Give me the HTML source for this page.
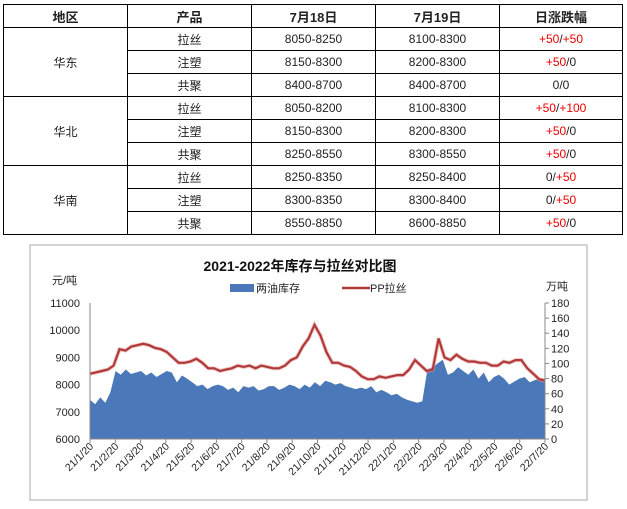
<!DOCTYPE html>
<html><head><meta charset="utf-8">
<style>
body{margin:0;width:627px;height:509px;background:#fff;overflow:hidden;font-family:"Liberation Sans","Noto Sans CJK SC",sans-serif;}
table{position:absolute;left:3px;top:4px;border-collapse:collapse;table-layout:fixed;}
td{border:1px solid #000;text-align:center;font-size:12px;color:#222;height:22px;padding:0;}
tr.h td{font-weight:bold;font-size:13px;height:22px;}
.r{color:#e00;}
</style></head><body>
<table>
<colgroup><col style="width:124px"><col style="width:124px"><col style="width:124px"><col style="width:124px"><col style="width:123px"></colgroup>
<tr class="h"><td>地区</td><td>产品</td><td>7月18日</td><td>7月19日</td><td>日涨跌幅</td></tr>
<tr><td rowspan="3">华东</td><td>拉丝</td><td>8050-8250</td><td>8100-8300</td><td><span class="r">+50</span>/<span class="r">+50</span></td></tr>
<tr><td>注塑</td><td>8150-8300</td><td>8200-8300</td><td><span class="r">+50</span>/0</td></tr>
<tr><td>共聚</td><td>8400-8700</td><td>8400-8700</td><td>0/0</td></tr>
<tr><td rowspan="3">华北</td><td>拉丝</td><td>8050-8200</td><td>8100-8300</td><td><span class="r">+50</span>/<span class="r">+100</span></td></tr>
<tr><td>注塑</td><td>8150-8300</td><td>8200-8300</td><td><span class="r">+50</span>/0</td></tr>
<tr><td>共聚</td><td>8250-8550</td><td>8300-8550</td><td><span class="r">+50</span>/0</td></tr>
<tr><td rowspan="3">华南</td><td>拉丝</td><td>8250-8350</td><td>8250-8400</td><td>0/<span class="r">+50</span></td></tr>
<tr><td>注塑</td><td>8300-8350</td><td>8300-8400</td><td>0/<span class="r">+50</span></td></tr>
<tr><td>共聚</td><td>8550-8850</td><td>8600-8850</td><td><span class="r">+50</span>/0</td></tr>
</table>
<svg id="chart" width="627" height="509" style="position:absolute;left:0;top:0" xmlns="http://www.w3.org/2000/svg">
<rect x="30" y="245" width="557" height="255" fill="#fff" stroke="#aaa"/>
<text x="300" y="271" text-anchor="middle" font-size="14" font-weight="bold" fill="#111">2021-2022年库存与拉丝对比图</text>
<text x="52" y="284" font-size="11" fill="#222">元/吨</text>
<text x="546" y="290" font-size="11" fill="#222">万吨</text>
<rect x="230" y="284" width="24" height="8" fill="#4a78b8"/>
<text x="256" y="292" font-size="11" fill="#222">两油库存</text>
<line x1="342" y1="288" x2="370" y2="288" stroke="#b03a3a" stroke-width="2.5"/>
<text x="370" y="292" font-size="11" fill="#222">PP拉丝</text>
<g id="g"></g>
</svg>
<script>
const tickLabels=["21/1/20","21/2/20","21/3/20","21/4/20","21/5/20","21/6/20","21/7/20","21/8/20","21/9/20","21/10/20","21/11/20","21/12/20","22/1/20","22/2/20","22/3/20","22/4/20","22/5/20","22/6/20","22/7/20"];
const leftTicks=[6000,7000,8000,9000,10000,11000];
const rightTicks=[0,20,40,60,80,100,120,140,160,180];
const priceValues=[8400,8450,8500,8550,8700,9300,9250,9400,9450,9500,9450,9350,9300,9200,9000,8800,8800,8850,8950,8800,8600,8600,8500,8550,8600,8700,8650,8700,8600,8700,8650,8600,8600,8700,8900,9000,9400,9700,10200,9800,9200,8800,8800,8700,8650,8500,8300,8200,8200,8300,8250,8300,8350,8350,8550,8900,8700,8500,8550,9700,9000,8900,9100,8950,8850,8850,8800,8800,8700,8700,8850,8800,8900,8900,8600,8400,8200,8150];
const inventoryValues=[52,46,55,48,62,90,85,92,86,88,90,84,88,82,86,90,88,75,84,80,75,70,72,66,70,72,70,65,68,62,70,68,70,64,66,70,70,65,68,72,70,66,72,68,75,70,77,75,72,74,70,68,66,68,66,70,62,65,62,58,60,55,52,50,48,50,92,95,100,105,85,88,95,90,85,92,80,88,75,82,85,80,72,76,80,82,75,78,80,75];
const X0=90,X1=545,Y0=439,Y1=303;
const svg=document.getElementById('g');const NS='http://www.w3.org/2000/svg';
function el(t,a){const e=document.createElementNS(NS,t);for(const k in a)e.setAttribute(k,a[k]);svg.appendChild(e);return e;}
const months=tickLabels.length-1;
function xOf(i,n){return X0+(X1-X0)*i/(n-1);}
function yL(v){return Y0-(v-6000)/5000*(Y0-Y1);}
function yR(v){return Y0-v/180*(Y0-Y1);}
let d='M'+X0+','+Y0;
inventoryValues.forEach((v,i)=>{d+=' L'+xOf(i,inventoryValues.length).toFixed(1)+','+yR(v).toFixed(1);});
d+=' L'+X1+','+Y0+' Z';
const a=el('path',{d:d,fill:'#4a78b8'});


let p='';
priceValues.forEach((v,i)=>{p+=(i?' L':'M')+xOf(i,priceValues.length).toFixed(1)+','+yL(v).toFixed(1);});
el('path',{d:p,fill:'none',stroke:'#e8a0a0','stroke-width':4,opacity:0.6});
const l=el('path',{d:p,fill:'none',stroke:'#b03a3a','stroke-width':2.2});


const ax=el('line',{x1:X0,y1:Y1,x2:X0,y2:Y0,stroke:'#888'});


const ax2=el('line',{x1:X1,y1:Y1,x2:X1,y2:Y0,stroke:'#888'});


const ax3=el('line',{x1:X0,y1:Y0,x2:X1,y2:Y0,stroke:'#888'});


leftTicks.forEach(v=>{const t=el('text',{x:80,y:yL(v)+4,'text-anchor':'end','font-size':11,fill:'#222'});t.textContent=v;

});
rightTicks.forEach(v=>{el('line',{x1:X1,x2:X1+4,y1:yR(v),y2:yR(v),stroke:'#888'});const t=el('text',{x:551,y:yR(v)+4,'font-size':11,fill:'#222'});t.textContent=v;

});
tickLabels.forEach((s,i)=>{const x=X0+(X1-X0)*i/months;el('line',{x1:x,x2:x,y1:Y0,y2:Y0+4,stroke:'#888'});
const t=el('text',{x:x+4,y:Y0+8,'text-anchor':'end','font-size':10.5,fill:'#222',transform:'rotate(-45 '+(x+4)+' '+(Y0+8)+')'});t.textContent=s;

});
</script>
</body></html>
